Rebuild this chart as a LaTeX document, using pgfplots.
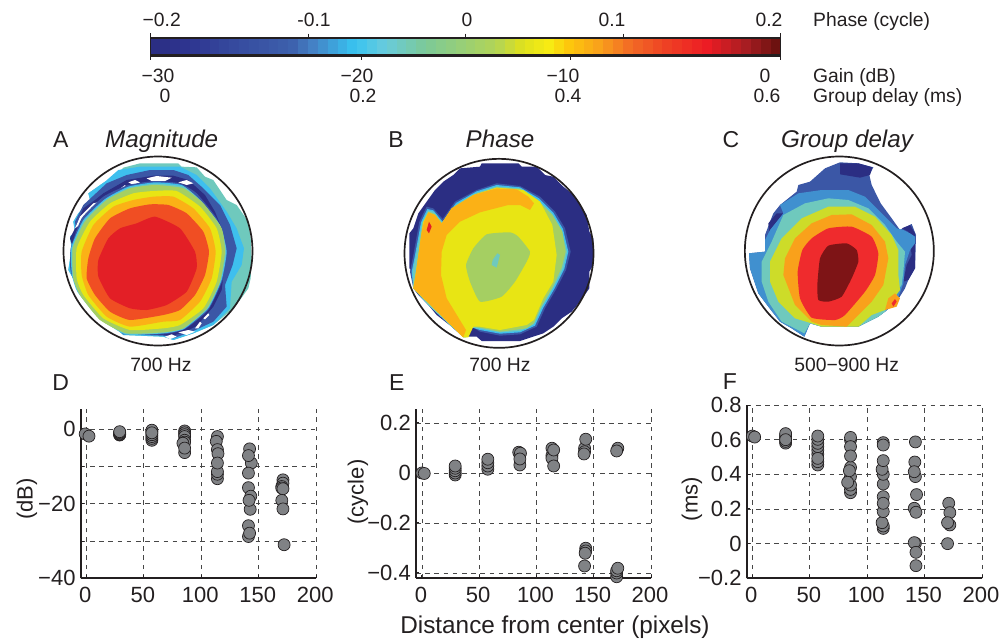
\documentclass[border=0pt]{standalone}
\usepackage{fontspec}
\setmainfont{Liberation Sans}
\usepackage{pgfplots}
\pgfplotsset{compat=1.18}
\definecolor{cnavy}{RGB}{43,46,131}
\definecolor{cblue}{RGB}{59,87,166}
\definecolor{cmid}{RGB}{64,144,207}
\definecolor{ccyan}{RGB}{62,191,238}
\definecolor{cteal}{RGB}{111,201,189}
\definecolor{cgreen}{RGB}{165,207,98}
\definecolor{cyg}{RGB}{205,220,41}
\definecolor{cyellow}{RGB}{232,229,20}
\definecolor{corange}{RGB}{251,177,22}
\definecolor{corange2}{RGB}{249,161,27}
\definecolor{credor}{RGB}{240,78,35}
\definecolor{cred}{RGB}{227,31,38}
\definecolor{cred2}{RGB}{239,43,45}
\definecolor{cdark}{RGB}{126,20,22}
\definecolor{ink}{RGB}{35,31,32}
\definecolor{mk}{RGB}{128,130,133}
\newcommand{\fs}[1]{\fontsize{#1}{#1}\selectfont}
\pgfplotsset{
 heat/.style={hide axis,scale only axis,anchor=north west,ymin=0,ymax=750,y dir=reverse,clip=false,xmin=0},
 sm/.style={fill=#1,draw=none,smooth cycle,tension=0.3},
 sc/.style={scale only axis,anchor=south west,axis lines*=left,axis line style={line width=2pt,color=ink,-},
  xmin=-4.9,xmax=200,xtick={0,50,100,150,200},xticklabels={0,50,100,150,200},
  grid=major,grid style={dash pattern=on 4.6pt off 4.6pt,color=black!72,line width=.8pt},
  tick style={color=ink,line width=1pt},major tick length=3pt,tick align=inside,
  ticklabel style={font=\fs{22},color=ink,inner sep=0pt},
  xticklabel style={yshift=-9pt,xshift=-1pt},yticklabel style={xshift=-5pt},
  clip=false},
 pts/.style={only marks,mark=*,mark size=6pt,mark options={fill=mk,draw=ink,line width=.7pt}},
 colormap={bar}{
  rgb255(0pt)=(43,46,131); rgb255(50pt)=(46,52,144); rgb255(126pt)=(54,74,158); rgb255(220pt)=(61,96,172);
  rgb255(253pt)=(68,128,196); rgb255(290pt)=(61,165,221); rgb255(322pt)=(56,195,240); rgb255(370pt)=(104,203,221);
  rgb255(433pt)=(123,201,154); rgb255(550pt)=(178,212,86); rgb255(590pt)=(221,224,31); rgb255(634pt)=(247,236,19);
  rgb255(666pt)=(253,199,12); rgb255(718pt)=(249,160,27); rgb255(766pt)=(242,106,37); rgb255(830pt)=(238,61,36);
  rgb255(888pt)=(237,28,36); rgb255(951pt)=(169,29,34); rgb255(1000pt)=(109,18,16)}
}
\begin{document}
\begin{tikzpicture}[x=1pt,y=1pt]
\path[use as bounding box] (0,0) rectangle (1000pt,641pt);
% ---------- colour bar
\begin{axis}[scale only axis,hide axis,at={(150.7pt,585.4pt)},anchor=south west,width=630pt,height=17.6pt,
 xmin=0,xmax=64,ymin=0,ymax=1,colormap name=bar,point meta min=0,point meta max=63]
\addplot[surf,shader=flat corner,mesh/rows=2,mesh/ordering=y varies,point meta=x] coordinates {
(0,0)(0,1)(1,0)(1,1)(2,0)(2,1)(3,0)(3,1)(4,0)(4,1)(5,0)(5,1)(6,0)(6,1)(7,0)(7,1)(8,0)(8,1)(9,0)(9,1)
(10,0)(10,1)(11,0)(11,1)(12,0)(12,1)(13,0)(13,1)(14,0)(14,1)(15,0)(15,1)(16,0)(16,1)(17,0)(17,1)(18,0)(18,1)(19,0)(19,1)
(20,0)(20,1)(21,0)(21,1)(22,0)(22,1)(23,0)(23,1)(24,0)(24,1)(25,0)(25,1)(26,0)(26,1)(27,0)(27,1)(28,0)(28,1)(29,0)(29,1)
(30,0)(30,1)(31,0)(31,1)(32,0)(32,1)(33,0)(33,1)(34,0)(34,1)(35,0)(35,1)(36,0)(36,1)(37,0)(37,1)(38,0)(38,1)(39,0)(39,1)
(40,0)(40,1)(41,0)(41,1)(42,0)(42,1)(43,0)(43,1)(44,0)(44,1)(45,0)(45,1)(46,0)(46,1)(47,0)(47,1)(48,0)(48,1)(49,0)(49,1)
(50,0)(50,1)(51,0)(51,1)(52,0)(52,1)(53,0)(53,1)(54,0)(54,1)(55,0)(55,1)(56,0)(56,1)(57,0)(57,1)(58,0)(58,1)(59,0)(59,1)
(60,0)(60,1)(61,0)(61,1)(62,0)(62,1)(63,0)(63,1)(64,0)(64,1)};
\end{axis}
% ---------- panel A
\begin{axis}[heat,at={(40pt,516pt)},width=300pt,height=250pt,xmax=900]
\addplot[fill=cteal,draw=none] coordinates {(300,115)(415,115)(425,125)(470,127)(495,155)(520,165)(560,225)(590,240)(625,290)(632,340)(635,400)(632,460)(625,490)(600,525)(575,555)(520,600)(460,625)(400,645)(370,635)(250,630)(210,595)(170,560)(130,510)(105,470)(85,435)(95,370)(90,335)(105,320)(100,290)(115,265)(150,225)(145,205)(195,170)(215,165)(250,128)} --cycle;
\addplot[fill=ccyan,draw=none] coordinates {(235,135)(300,125)(420,125)(470,150)(510,190)(560,260)(590,310)(612,370)(605,420)(575,470)(570,550)(520,600)(460,625)(400,645)(370,635)(250,630)(210,595)(170,560)(130,510)(105,470)(85,435)(95,370)(90,335)(105,320)(100,290)(115,265)(150,225)(145,205)(195,170)} --cycle;
\addplot[fill=cblue,draw=none] coordinates {(200,175)(260,150)(330,135)(400,135)(445,150)(490,190)(540,240)(570,300)(590,370)(578,420)(555,480)(560,545)(520,590)(460,618)(400,640)(370,632)(250,628)(210,590)(170,555)(130,505)(105,465)(92,430)(98,370)(92,335)(108,315)(105,290)(130,240)} --cycle;
\addplot[fill=cnavy,draw=none] coordinates {(190,205)(260,165)(340,152)(400,152)(445,165)(495,210)(525,260)(545,310)(558,380)(548,470)(545,495)(520,545)(470,603)(440,618)(400,632)(370,630)(250,625)(210,588)(170,550)(130,500)(105,460)(97,430)(100,370)(90,340)(105,310)(130,250)(165,225)} --cycle;
\addplot[fill=white,draw=none] coordinates {(105,310)(120,275)(160,235)(190,228)(165,260)(125,295)} --cycle;
\addplot[fill=white,draw=none] coordinates {(320,160)(350,153)(395,158)(375,168)(335,168)} --cycle;
\addplot[fill=white,draw=none] coordinates {(265,172)(285,165)(300,172)(280,180)} --cycle;
\addplot[fill=white,draw=none] coordinates {(415,172)(440,165)(460,175)(440,180)} --cycle;
\addplot[fill=white,draw=none] coordinates {(235,195)(255,180)(260,188)(240,200)} --cycle;
\addplot[fill=white,draw=none] coordinates {(200,216)(222,200)(225,204)(205,219)} --cycle;
\addplot[fill=white,draw=none] coordinates {(375,635)(395,628)(410,635)(390,642)} --cycle;
\addplot[fill=white,draw=none] coordinates {(415,622)(445,615)(465,620)(440,630)} --cycle;
\addplot[fill=white,draw=none] coordinates {(465,610)(480,590)(485,595)(475,610)} --cycle;
\addplot[fill=white,draw=none] coordinates {(490,580)(505,565)(508,570)(495,583)} --cycle;
\addplot[sm=cblue] coordinates {(345,168)(420,175)(470,205)(530,280)(565,370)(550,460)(505,555)(435,612)(370,628)(250,625)(180,560)(120,505)(92,440)(92,370)(125,280)(190,215)(265,180)};
\addplot[sm=ccyan] coordinates {(345,172)(425,180)(480,225)(540,300)(560,380)(545,465)(505,550)(432,612)(370,625)(255,628)(175,575)(112,500)(96,450)(93,370)(130,285)(195,222)(265,185)};
\addplot[sm=cteal] coordinates {(345,176)(430,185)(485,230)(542,305)(558,380)(542,468)(502,552)(431,610)(370,624)(258,627)(178,582)(118,508)(98,455)(96,370)(132,288)(198,224)(268,188)};
\addplot[sm=cgreen] coordinates {(345,180)(430,190)(490,235)(545,310)(555,380)(540,470)(500,550)(430,610)(370,622)(260,625)(180,585)(120,510)(100,460)(98,370)(135,290)(200,225)(270,190)};
\addplot[sm=cyellow] coordinates {(340,198)(410,198)(480,245)(530,310)(545,380)(530,470)(490,550)(420,600)(370,610)(270,615)(190,580)(130,510)(110,460)(110,370)(150,290)(210,235)(280,205)};
\addplot[sm=corange] coordinates {(340,215)(400,215)(460,250)(510,310)(527,380)(515,460)(480,530)(420,585)(370,590)(270,605)(200,575)(145,510)(125,450)(125,380)(160,300)(220,245)(280,225)};
\addplot[sm=credor] coordinates {(330,238)(385,240)(440,265)(490,320)(507,380)(495,450)(465,510)(420,555)(370,570)(270,585)(210,560)(165,510)(140,460)(145,400)(165,340)(210,280)(270,250)};
\addplot[sm=cred] coordinates {(345,275)(420,310)(465,380)(470,430)(440,500)(380,540)(320,555)(270,550)(210,520)(175,455)(175,405)(205,340)(240,310)(290,295)};
\draw[line width=1.7pt,color=ink] (axis cs:354,378) circle (94.5pt);
\end{axis}
% ---------- panel B
\begin{axis}[heat,at={(380pt,516pt)},width=300pt,height=250pt,xmax=900]
\addplot[fill=cnavy,draw=none] coordinates {(305,115)(415,115)(425,125)(470,125)(495,150)(520,155)(550,185)(575,205)(600,240)(620,270)(628,320)(640,340)(640,420)(628,440)(628,490)(600,530)(575,560)(545,580)(520,605)(490,625)(420,648)(305,648)(290,635)(250,635)(215,605)(170,570)(145,540)(115,510)(100,490)(98,440)(88,430)(88,325)(100,310)(115,265)(140,230)(165,195)(190,170)(220,150)(240,130)(300,125)} --cycle;
\addplot[fill=cblue,draw=none] coordinates {(250,637)(268,600)(300,620)(360,632)(420,628)(470,605)(495,550)(530,490)(558,435)(572,380)(555,310)(525,260)(480,215)(420,183)(350,175)(290,195)(225,230)(188,282)(160,250)(140,245)(118,290)(100,390)(90,440)(100,490)(145,540)(215,605)} --cycle;
\addplot[fill=ccyan,draw=none] coordinates {(253,637)(272,606)(300,615)(360,626)(420,622)(465,602)(490,548)(525,488)(553,432)(565,380)(549,312)(520,263)(477,220)(420,187)(350,180)(290,199)(228,234)(188,290)(160,256)(142,252)(123,292)(105,390)(95,440)(100,490)(145,540)(215,605)} --cycle;
\addplot[fill=cteal,draw=none] coordinates {(256,637)(276,608)(300,611)(360,622)(420,618)(462,598)(486,546)(521,486)(550,430)(561,380)(545,314)(517,266)(474,224)(420,190)(350,184)(290,203)(230,238)(188,294)(160,260)(144,256)(126,294)(108,390)(98,440)(100,490)(145,540)(215,605)} --cycle;
\addplot[fill=cgreen,draw=none] coordinates {(259,637)(278,606)(300,608)(360,620)(440,610)(462,594)(482,548)(518,486)(545,428)(557,380)(547,320)(517,270)(472,226)(420,192)(350,187)(290,206)(232,241)(186,297)(165,268)(146,260)(128,294)(108,440)(100,490)(250,637)} --cycle;
\addplot[fill=cyellow,draw=none] coordinates {(265,637)(280,605)(300,605)(360,615)(440,600)(462,585)(490,520)(520,470)(530,390)(517,300)(480,230)(430,195)(350,188)(280,210)(215,250)(185,295)(165,270)(145,262)(130,290)(108,440)(100,490)(250,637)} --cycle;
\addplot[fill=corange,draw=none] coordinates {(350,190)(410,193)(445,215)(462,235)(450,255)(420,240)(385,240)(300,262)(240,290)(200,330)(185,380)(183,450)(200,520)(258,615)(250,637)(100,490)(108,440)(125,320)(132,290)(145,262)(165,270)(185,295)(215,250)(280,210)} --cycle;
\addplot[sm=cgreen] coordinates {(320,328)(390,322)(415,335)(450,380)(440,410)(405,470)(365,515)(300,530)(270,470)(258,420)(280,370)};
\addplot[fill=cteal,draw=none] coordinates {(352,385)(360,390)(350,428)(335,420)(338,405)} --cycle;
\addplot[fill=cred,draw=none] coordinates {(147,290)(155,305)(147,325)(140,315)} --cycle;
\draw[line width=1.7pt,color=ink] (axis cs:357,385) circle (94.5pt);
\end{axis}
% ---------- panel C
\begin{axis}[heat,at={(715pt,516pt)},width=285pt,height=250pt,xmax=855]
\addplot[fill=cblue,draw=none] coordinates {(375,112)(430,115)(475,127)(463,150)(470,180)(497,235)(530,280)(555,315)(590,297)(603,330)(600,430)(580,465)(570,490)(545,530)(510,560)(490,575)(430,605)(320,605)(285,595)(268,635)(230,610)(195,590)(160,545)(130,505)(105,430)(102,385)(150,380)(150,330)(165,290)(175,265)(195,240)(245,200)(250,180)(285,170)(330,130)} --cycle;
\addplot[fill=cnavy,draw=none] coordinates {(375,115)(430,115)(472,127)(465,150)(435,158)(375,148)} --cycle;
\addplot[fill=cnavy,draw=none] coordinates {(160,295)(185,265)(205,265)(195,295)(165,340)} --cycle;
\addplot[fill=cnavy,draw=none] coordinates {(600,325)(600,430)(580,465)(565,470)(575,420)(590,390)(580,320)(560,310)(585,300)} --cycle;
\addplot[fill=cmid,draw=none] coordinates {(250,205)(320,195)(400,195)(450,215)(500,265)(545,310)(565,315)(585,325)(600,335)(600,355)(585,375)(570,420)(565,475)(545,530)(510,560)(490,575)(430,605)(320,605)(285,595)(268,635)(230,610)(195,590)(160,545)(130,505)(105,430)(102,385)(150,380)(150,345)(165,315)(205,265)(195,240)} --cycle;
\addplot[fill=cteal,draw=none] coordinates {(340,220)(400,225)(460,250)(510,300)(545,350)(570,380)(565,440)(560,480)(545,500)(510,560)(490,575)(430,605)(320,605)(285,595)(268,625)(200,590)(160,530)(140,470)(140,410)(170,350)(205,270)(270,235)} --cycle;
\addplot[fill=cyg,draw=none] coordinates {(340,245)(420,245)(480,275)(530,330)(550,375)(550,450)(555,495)(510,555)(470,570)(430,605)(395,605)(320,605)(290,595)(240,580)(190,530)(165,470)(165,410)(200,340)(260,280)} --cycle;
\addplot[fill=corange2,draw=none] coordinates {(350,270)(410,268)(470,300)(510,350)(520,400)(505,480)(470,530)(395,605)(320,600)(290,590)(240,540)(205,450)(210,400)(240,340)(290,295)} --cycle;
\addplot[fill=corange2,draw=none] coordinates {(510,555)(520,520)(540,505)(555,520)(545,545)} --cycle;
\addplot[sm=cred2] coordinates {(340,310)(410,305)(470,335)(490,385)(480,450)(450,500)(390,570)(360,585)(290,578)(255,520)(248,440)(262,375)(290,340)};
\addplot[fill=cred2,draw=none] coordinates {(530,535)(540,522)(545,530)(535,545)} --cycle;
\addplot[sm=cdark] coordinates {(340,362)(395,355)(425,375)(430,410)(410,460)(380,515)(340,530)(310,525)(307,480)(315,400)};
\draw[line width=1.7pt,color=ink] (axis cs:373,378) circle (94.5pt);
\end{axis}
% ---------- panel D
\begin{axis}[sc,at={(80.7pt,62.7pt)},width=235.6pt,height=169pt,ymin=-40,ymax=5.3,
 ytick={-40,-30,-20,-10,0},yticklabels={−40,,−20,,0\hspace{7pt}}]
\addplot[pts] coordinates {(-1,-1.3)(2.3,-1.9)
(29,-1.6)(29,-1.5)(29,-1.3)(29,-1.1)(29,-0.9)(29,-0.7)
(57,-3)(57,-2.5)(57,-2)(57,-1.5)(57,-0.9)(57,-0.5)(57,-0.3)(57,-1)
(85.5,-0.5)(85.5,-1)(85.5,-1.5)(85.5,-2)(85.5,-3)(85.5,-3.5)(84,-3.8)(85.5,-6.3)(85.5,-5.1)
(114,-2)(114,-13.3)(114,-12.1)(114,-11.4)(113,-3.3)(114,-5.5)(114.5,-6.6)(114,-9.1)
(142,-5.3)(143.5,-9.1)(141,-7.1)(141,-11.8)(141,-15.7)(143,-18)(141,-25.9)(141,-28.8)(142,-27.9)(142.5,-21.5)(141.5,-19.1)
(171,-13.6)(171,-14.5)(170,-15.4)(170,-15.8)(171,-16)(170,-19.1)(171,-21.4)(172,-31)};
\end{axis}
% ---------- panel E
\begin{axis}[sc,at={(416pt,62.7pt)},width=235pt,height=169pt,xmin=-5.2,ymin=-0.4213,ymax=0.2547,
 ytick={-0.4,-0.2,0,0.2},yticklabels={−0.4,−0.2,0\hspace{6pt},0.2\hspace{3pt}}]
\addplot[pts] coordinates {(0,0)(2,-0.002)
(29,-0.008)(29,0)(29,0.009)(29,0.019)(29,0.028)
(57.5,0.015)(57.5,0.028)(57.5,0.041)(57.5,0.055)
(85.5,0.032)(85.5,0.072)(84.5,0.083)(86,0.079)(85.5,0.056)
(113.5,0.07)(113.5,0.099)(113.5,0.059)(115,0.028)(115,0.092)
(142,0.099)(142,0.085)(141.5,0.076)(143,0.135)
(143,-0.301)(143,-0.312)(142.5,-0.321)(142,-0.372)
(171,0.099)(170,0.088)
(170,-0.415)(170,-0.4)(170,-0.391)(171,-0.381)};
\end{axis}
% ---------- panel F
\begin{axis}[sc,at={(746.7pt,62.7pt)},width=235.3pt,height=173.3pt,ymin=-0.2,ymax=0.8,
 ytick={-0.2,0,0.2,0.4,0.6,0.8},yticklabels={−0.2,0\hspace{6pt},0.2,0.4,0.6,0.8}]
\addplot[pts] coordinates {(0,0.621)(2,0.615)
(29,0.58)(29,0.59)(29,0.605)(29,0.615)(29,0.625)(29,0.635)(29,0.6)
(57,0.454)(57,0.473)(57,0.517)(57,0.54)(57,0.56)(57,0.579)(57,0.602)(57,0.621)(57,0.492)
(85.5,0.294)(85.5,0.313)(85.5,0.338)(85.5,0.387)(85.5,0.44)(85.5,0.598)(85.5,0.613)(85.5,0.56)(85.5,0.506)(84.5,0.421)(83,0.354)
(114,0.088)(114,0.102)(113,0.121)(114,0.185)(114,0.271)(114,0.233)(114,0.344)(114,0.4)(113,0.429)(114,0.479)(114,0.583)(114,0.569)
(142,0.587)(141.5,0.471)(142,0.387)(141,0.415)(143,0.283)(141,0.204)(142.5,0.181)(142,0.002)(141,0.006)(142.5,-0.05)(142.5,-0.127)
(171,0.233)(172,0.179)(172,0.108)(170,0.121)(170,0)};
\end{axis}
% ---------- text and frame of the colour bar, all in reference pixels
\begin{axis}[scale only axis,hide axis,at={(0pt,0pt)},anchor=south west,width=1000pt,height=641pt,
 xmin=0,xmax=1000,ymin=0,ymax=641,y dir=reverse,clip=false]
\draw[line width=2pt,color=ink] (axis cs:150.7,38) -- (axis cs:780.7,38);
\draw[line width=2.4pt,color=ink] (axis cs:150.7,55.6) -- (axis cs:780.7,55.6);
\draw[line width=1.4pt,color=ink] (axis cs:150.7,33) -- (axis cs:150.7,59.5);
\draw[line width=1.4pt,color=ink] (axis cs:780.7,33) -- (axis cs:780.7,59.5);
\draw[line width=1pt,color=ink] (axis cs:308.3,33.5) -- (axis cs:308.3,38);
\draw[line width=1pt,color=ink] (axis cs:465.7,33.5) -- (axis cs:465.7,38);
\draw[line width=1pt,color=ink] (axis cs:623.3,33.5) -- (axis cs:623.3,38);
\draw[line width=1pt,color=ink] (axis cs:361,55.6) -- (axis cs:361,59.5);
\draw[line width=1pt,color=ink] (axis cs:570.7,55.6) -- (axis cs:570.7,59.5);
\tikzset{every node/.append style={color=ink,inner sep=0pt}}
\node[font=\fs{19.3},anchor=base] at (axis cs:161.7,26) {−0.2};
\node[font=\fs{19.3},anchor=base] at (axis cs:314,26) {-0.1};
\node[font=\fs{19.3},anchor=base] at (axis cs:467,26) {0};
\node[font=\fs{19.3},anchor=base] at (axis cs:612,26) {0.1};
\node[font=\fs{19.3},anchor=base] at (axis cs:769,26) {0.2};
\node[font=\fs{19.3},anchor=base] at (axis cs:158,82.3) {−30};
\node[font=\fs{19.3},anchor=base] at (axis cs:357,82.3) {−20};
\node[font=\fs{19.3},anchor=base] at (axis cs:563,82.3) {−10};
\node[font=\fs{19.3},anchor=base] at (axis cs:765,82.3) {0};
\node[font=\fs{19.3},anchor=base] at (axis cs:165,102) {0};
\node[font=\fs{19.3},anchor=base] at (axis cs:363,102) {0.2};
\node[font=\fs{19.3},anchor=base] at (axis cs:568,102) {0.4};
\node[font=\fs{19.3},anchor=base] at (axis cs:767,102) {0.6};
\node[font=\fs{19.3},anchor=base west] at (axis cs:813,26) {Phase (cycle)};
\node[font=\fs{19.3},anchor=base west] at (axis cs:813,82.3) {Gain (dB)};
\node[font=\fs{19.3},anchor=base west] at (axis cs:813,102) {Group delay (ms)};
\node[font=\fs{23},anchor=base] at (axis cs:60.7,147.7) {A};
\node[font=\fs{23},anchor=base] at (axis cs:396,147.7) {B};
\node[font=\fs{23},anchor=base] at (axis cs:731,147.7) {C};
\node[font=\fs{24.2}\itshape,anchor=base] at (axis cs:161.7,147.7) {Magnitude};
\node[font=\fs{24.2}\itshape,anchor=base] at (axis cs:500,147.7) {Phase};
\node[font=\fs{24.2}\itshape,anchor=base] at (axis cs:847,147.7) {Group delay};
\node[font=\fs{19.3},anchor=base] at (axis cs:161,371) {700 Hz};
\node[font=\fs{19.3},anchor=base] at (axis cs:500,371) {700 Hz};
\node[font=\fs{19.3},anchor=base] at (axis cs:846.7,371) {500−900 Hz};
\node[font=\fs{23},anchor=base] at (axis cs:60.7,390) {D};
\node[font=\fs{23},anchor=base] at (axis cs:396.7,390) {E};
\node[font=\fs{23},anchor=base] at (axis cs:730,389) {F};
\node[font=\fs{22},rotate=90] at (axis cs:27,499) {(dB)};
\node[font=\fs{22},rotate=90] at (axis cs:358,492) {(cycle)};
\node[font=\fs{22},rotate=90] at (axis cs:692,499) {(ms)};
\node[font=\fs{24.3},anchor=base] at (axis cs:555,633) {Distance from center (pixels)};
\end{axis}
\end{tikzpicture}
\end{document}
